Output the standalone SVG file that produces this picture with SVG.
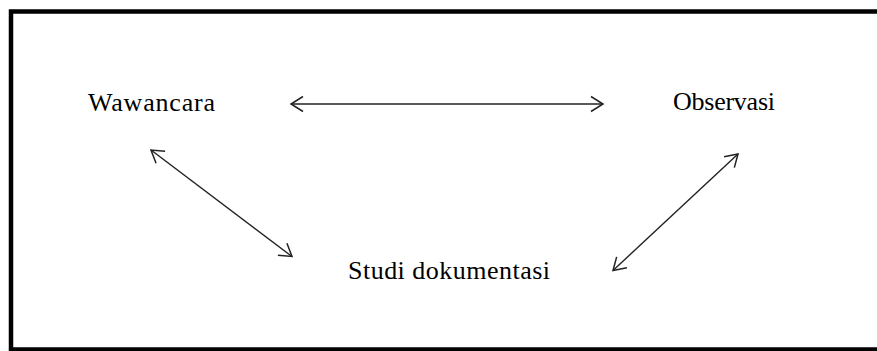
<svg xmlns="http://www.w3.org/2000/svg" width="877" height="351" viewBox="0 0 877 351">
<style>
.frame{fill:none;stroke:#000;stroke-width:4.5}
.lbl{font-family:"Liberation Serif","Times New Roman",serif;font-size:26px;fill:#000}
.conn{fill:none;stroke:#222;stroke-width:1.4;marker-start:url(#ah);marker-end:url(#ah)}
</style>
<defs>
<marker id="ah" markerUnits="userSpaceOnUse" markerWidth="30" markerHeight="30" refX="0" refY="0" viewBox="-15 -15 30 30" orient="auto-start-reverse">
<path d="M-12,-7.5 L0,0 L-12,7.5" fill="none" stroke="#222" stroke-width="1.5"/>
</marker>
</defs>
<rect width="877" height="351" fill="#fff"/>
<path class="frame" d="M880,11.5 H11 V349.5 H880"/>
<g id="wawancara"><text class="lbl" x="88" y="111" textLength="127" lengthAdjust="spacing">Wawancara</text></g>
<g id="observasi"><text class="lbl" x="673" y="110" textLength="102" lengthAdjust="spacing">Observasi</text></g>
<g id="studi"><text class="lbl" x="348" y="279" textLength="202" lengthAdjust="spacing">Studi dokumentasi</text></g>
<g id="connectors">
<line class="conn" x1="291" y1="104" x2="603" y2="104"/>
<line class="conn" x1="151" y1="150" x2="292" y2="256.5"/>
<line class="conn" x1="738" y1="154" x2="613" y2="270.5"/>
</g>
</svg>
